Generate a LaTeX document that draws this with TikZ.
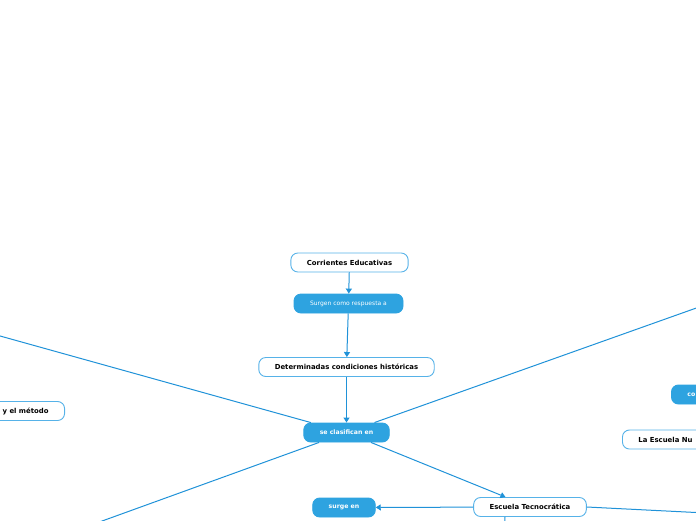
\documentclass[tikz,border=0pt]{standalone}
\usepackage{fontspec}
\setmainfont{DejaVu Sans}
\usetikzlibrary{arrows.meta, positioning}
\definecolor{mapblue}{RGB}{46,163,224}
\definecolor{mapline}{RGB}{32,146,216}
\definecolor{mapedge}{RGB}{86,178,232}

\begin{document}
\begin{tikzpicture}[
  x=1pt, y=-1pt,
  topic/.style={
    draw=mapedge, line width=0.9pt, rounded corners=7pt, fill=white,
    minimum height=19pt, inner xsep=16pt,
    font=\fontsize{6.9}{8}\selectfont\bfseries, text=black},
  link/.style={
    draw=mapblue, line width=0.9pt, rounded corners=7pt, fill=mapblue,
    minimum height=19pt, inner xsep=16pt,
    font=\fontsize{6.2}{7}\selectfont\bfseries, text=white},
  arr/.style={-{Triangle[length=5pt, width=6pt]}, line width=1pt, mapline},
  ln/.style={line width=1pt, mapline}
]
\useasboundingbox (0,0) rectangle (696,520);
\clip (0,0) rectangle (696,520);

%% Main column
\node[topic] (cor) at (349.5,262.5) {Corrientes Educativas};
\node[link, font=\fontsize{6}{7}\selectfont, minimum width=109pt]
  (sur) at (348.5,303.5) {Surgen como respuesta a};
\node[topic] (det) at (346.5,367) {Determinadas condiciones históricas};
\node[link, minimum width=83pt] (cls) at (346.5,432.5) {se clasifican en};

%% Side topics (cut by the page edge)
\node[topic, anchor=east] (met) at (65,411) {y el método};
\node[link, anchor=west] (con) at (671,394.5) {co};
\node[topic, anchor=west] (nue) at (622,439.5) {La Escuela  Nu};
\node[topic] (tec) at (530,507) {Escuela Tecnocrática};
\node[link, minimum width=60pt] (srg) at (344,507.5) {surge en};

%% Free ends outside the page
\coordinate (offUL) at (-20,330.4);
\coordinate (offUR) at (716,301);
\coordinate (offLL) at (80,529);
\coordinate (offR)  at (716,513.5);
\coordinate (offD)  at (504,540);

%% Main flow arrows
\draw[arr] (cor) -- (sur);
\draw[arr] (sur) -- (det);
\draw[arr] (det) -- (cls);

%% Branches
\draw[ln] (cls) -- (offUL);
\draw[ln] (cls) -- (offUR);
\draw[ln] (cls) -- (offLL);
\draw[arr] (cls) -- (tec);
\draw[arr] (tec) -- (srg);
\draw[ln] (tec.east) -- (offR);
\draw[ln] ([xshift=-25pt]tec.south) -- (offD);

\end{tikzpicture}
\end{document}
